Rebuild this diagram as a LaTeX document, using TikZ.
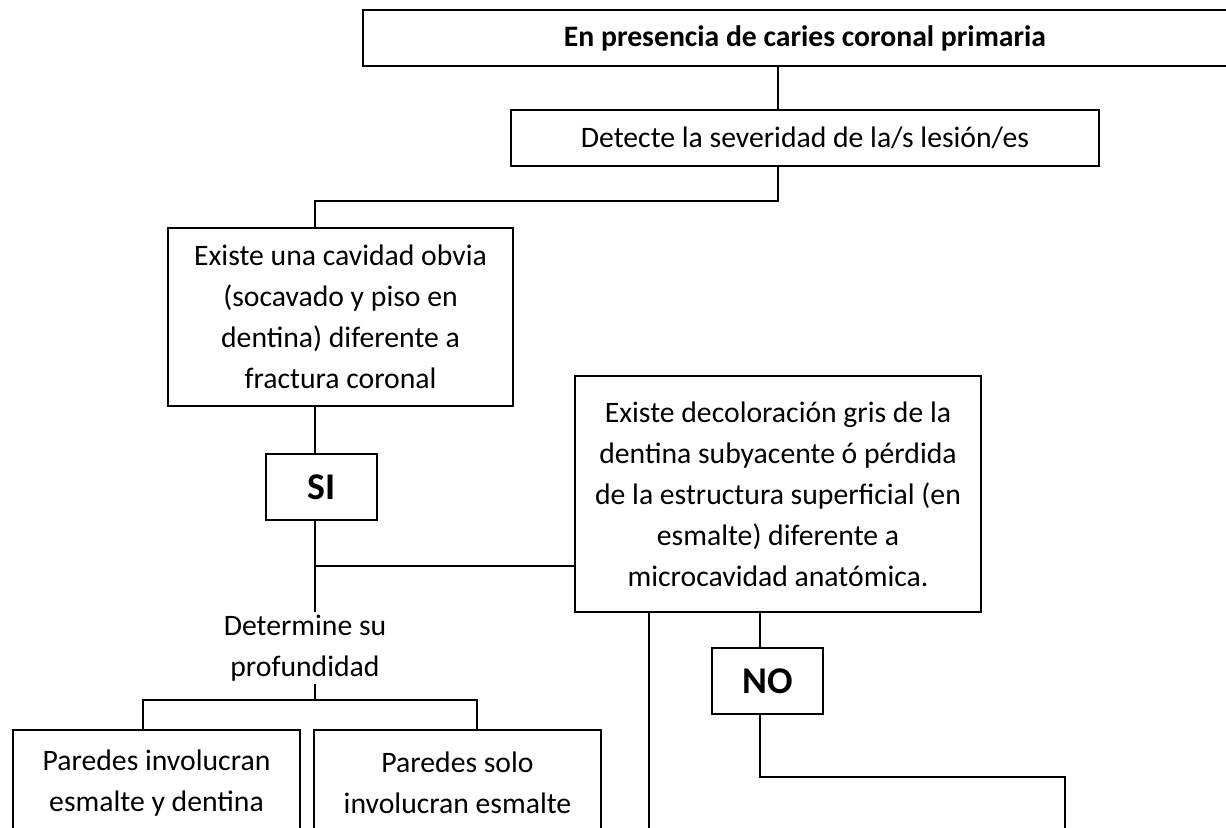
\documentclass[tikz,border=0pt]{standalone}
\usepackage{fontspec}
\setmainfont{Carlito}

\begin{document}
\begin{tikzpicture}[
  line/.style={line width=1.1pt},
  box/.style={rectangle, draw, line width=1.1pt, align=center, inner sep=1pt, font=\fontsize{16.9}{23.3}\selectfont},
  answer/.style={box, minimum width=2.22cm, minimum height=1.32cm, font=\fontsize{21.5}{25}\selectfont\bfseries}
]
\useasboundingbox (0,0) rectangle (24.52,-16.54);
\clip (0,0) rectangle (24.52,-16.54);

% Boxes
\node[box, minimum width=17.68cm, minimum height=1.12cm, font=\fontsize{16.9}{23.3}\selectfont\bfseries] (top) at (16.1,-0.76) {En presencia de caries coronal primaria};
\node[box, minimum width=11.76cm, minimum height=1.12cm] (det) at (16.1,-2.76) {Detecte la severidad de la/s lesión/es};
\node[box, minimum width=6.9cm, minimum height=3.56cm] (cav) at (6.81,-6.34) {Existe una cavidad obvia\\(socavado y piso en\\dentina) diferente a\\fractura coronal};
\node[answer] (si) at (6.43,-9.74) {SI};
\node[box, minimum width=8.12cm, minimum height=4.72cm] (dec) at (15.56,-9.88) {Existe decoloración gris de la\\dentina subyacente ó pérdida\\de la estructura superficial (en\\esmalte) diferente a\\microcavidad anatómica.};
\node[answer] (no) at (15.35,-13.62) {NO};
\node[box, draw=none] (prof) at (6.1,-12.96) {Determine su\\profundidad};
\node[box, minimum width=5.74cm, minimum height=2.12cm] (wall1) at (3.13,-15.66) {Paredes involucran\\esmalte y dentina};
\node[box, minimum width=5.74cm, minimum height=2.12cm] (wall2) at (9.15,-15.66) {Paredes solo\\involucran esmalte};

% Junctions
\coordinate (jsi) at (6.3,-11.32);
\coordinate (jprof) at (6.3,-14.0);
\coordinate (noend) at (21.3,-17);

% Connectors
\draw[line] ([xshift=-0.54cm]top.south) -- ([xshift=-0.54cm]det.north);
\draw[line] ([xshift=-0.54cm]det.south) -- ++(0,-0.68) -| ([xshift=-0.51cm]cav.north);
\draw[line] ([xshift=-0.51cm]cav.south) -- ([xshift=-0.13cm]si.north);
\draw[line] ([xshift=-0.13cm]si.south) -- (jsi) -- (prof.north -| jsi);
\draw[line] (jsi) -- (jsi -| dec.west);
\draw[line] ([xshift=-2.58cm]dec.south) -- ++(0,-5);
\draw[line] ([xshift=-0.36cm]dec.south) -- ([xshift=-0.15cm]no.north);
\draw[line] ([xshift=-0.15cm]no.south) -- ++(0,-1.24) -| (noend);
\draw[line] ([xshift=0.2cm]prof.south) -- (jprof);
\draw[line] ([xshift=-0.27cm]wall1.north) |- (jprof) -| ([xshift=0.39cm]wall2.north);

\end{tikzpicture}
\end{document}
